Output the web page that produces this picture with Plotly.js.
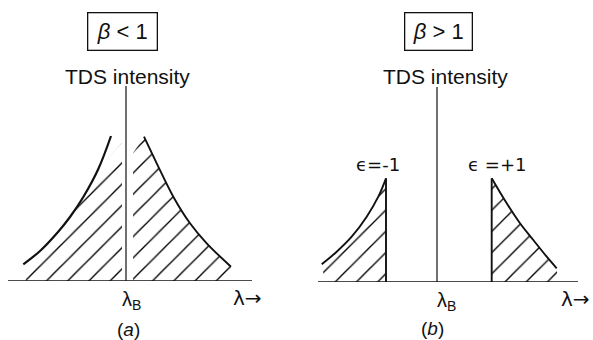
<!DOCTYPE html>
<html><head><meta charset="utf-8">
<script src="https://cdn.plot.ly/plotly-3.0.1.min.js"></script>
<style>html,body{margin:0;padding:0;background:#fff}#chart{width:593px;height:340px}</style>
</head><body><div id="chart"></div>
<script>
// ---- Panel (a): beta < 1 (lambda measured from lambda_B, arbitrary units) ----
const aLeftCurveX  = [-10.27, -8.6, -6.8, -5.6, -4.27, -2.77, -1.5];
const aLeftCurveY  = [1.67, 3.0, 4.9, 6.4, 8.4, 11.2, 14.5];
const aRightCurveX = [1.8, 3.07, 4.73, 6.4, 8.07, 10.5];
const aRightCurveY = [14.43, 11.77, 8.43, 5.77, 3.77, 1.43];
const aLeftHatchX  = [-10.0, -10.27, -8.6, -6.8, -5.6, -4.3, -2.1, -0.4, -0.4];
const aLeftHatchY  = [0, 1.67, 3.0, 4.9, 6.4, 8.2, 12.0, 13.8, 0];
const aRightHatchX = [0.7, 0.7, 1.8, 3.07, 4.73, 6.4, 8.07, 10.5, 10.7];
const aRightHatchY = [0, 12.8, 14.43, 11.77, 8.43, 5.77, 3.77, 1.43, 0];
const aBaseX = [-11.8, 12.6];
const aLambdaB = 0;
const aAxisTop = 19.5;

// ---- Panel (b): beta > 1 ----
const bMinusCurveX = [-11.53, -10.03, -8.53, -7.03, -5.87, -5.1];
const bMinusCurveY = [1.77, 3.03, 4.53, 6.53, 8.53, 10.37];
const bMinusEdgeX  = -5.1;
const bPlusCurveX  = [5.47, 6.97, 8.3, 9.63, 10.97, 11.97];
const bPlusCurveY  = [10.37, 7.87, 5.87, 4.2, 2.53, 1.37];
const bPlusEdgeX   = 5.47;
const bLobeTop     = 10.37;
const bMinusHatchX = [-11.2, -11.53, -10.03, -8.53, -7.03, -5.87, -5.1, -5.1];
const bMinusHatchY = [0, 1.77, 3.03, 4.53, 6.53, 8.53, 10.37, 0];
const bPlusHatchX  = [5.47, 5.47, 6.97, 8.3, 9.63, 10.97, 11.97, 12.1];
const bPlusHatchY  = [0, 10.37, 7.87, 5.87, 4.2, 2.53, 1.37, 0];
const bBaseX = [-11.9, 14.1];
const bLambdaB = 0;
const bAxisTop = 19.5;

// ---- Text ----
const panelConds = ['<i>β</i> < 1', '<i>β</i> > 1'];
const yLabel = 'TDS intensity';
const lobeLabels = ['ϵ=-1', 'ϵ =+1'];
const lambdaB = 'λ<sub>B</sub>';
const lambdaArrow = 'λ→';
const panelTags = ['(<i>a</i>)', '(<i>b</i>)'];

const W = 593, H = 340;
const px = x => x / W, py = y => 1 - y / H;
const hatch = {shape: '/', size: 15, solidity: 0.09, fgcolor: '#000', bgcolor: 'rgba(0,0,0,0)', fillmode: 'replace'};
const blk = '#111';

function fillTr(x, y, ax) {
  return {x, y, xaxis: 'x' + ax, yaxis: 'y' + ax, type: 'scatter', mode: 'lines', fill: 'toself',
    fillcolor: 'rgba(0,0,0,0)', fillpattern: hatch, line: {width: 0, color: 'rgba(0,0,0,0)'}, hoverinfo: 'skip'};
}
function curveTr(x, y, ax, w) {
  return {x, y, xaxis: 'x' + ax, yaxis: 'y' + ax, type: 'scatter', mode: 'lines',
    line: {color: blk, width: w, shape: 'spline', smoothing: 1}, hoverinfo: 'skip'};
}
function straight(x, y, ax, w) {
  return {x, y, xaxis: 'x' + ax, yaxis: 'y' + ax, type: 'scatter', mode: 'lines',
    line: {color: blk, width: w}, hoverinfo: 'skip'};
}

const traces = [
  fillTr(aLeftHatchX, aLeftHatchY, ''),
  fillTr(aRightHatchX, aRightHatchY, ''),
  straight(aBaseX, [0, 0], '', 1.3),
  straight([aLambdaB, aLambdaB], [0, aAxisTop], '', 1.2),
  curveTr(aLeftCurveX, aLeftCurveY, '', 2.2),
  curveTr(aRightCurveX, aRightCurveY, '', 1.9),
  fillTr(bMinusHatchX, bMinusHatchY, '2'),
  fillTr(bPlusHatchX, bPlusHatchY, '2'),
  straight(bBaseX, [0, 0], '2', 1.3),
  straight([bLambdaB, bLambdaB], [0, bAxisTop], '2', 1.2),
  curveTr(bMinusCurveX, bMinusCurveY, '2', 1.9),
  straight([bMinusEdgeX, bMinusEdgeX], [0, bLobeTop], '2', 1.9),
  curveTr(bPlusCurveX, bPlusCurveY, '2', 1.9),
  straight([bPlusEdgeX, bPlusEdgeX], [0, bLobeTop], '2', 1.9)
];

const font = {family: 'Liberation Sans, Arial, sans-serif', color: blk};
function ann(text, x, y, size, extra, fam) {
  return Object.assign({text, x: px(x), y: py(y), xref: 'paper', yref: 'paper', showarrow: false,
    xanchor: 'center', yanchor: 'middle',
    font: Object.assign({}, font, {size}, fam ? {family: fam} : {})}, extra || {});
}
const box = {bordercolor: blk, borderwidth: 1.3, borderpad: 2, bgcolor: '#fff'};

const annotations = [
  ann(panelConds[0], 122, 31, 22, Object.assign({width: 64, height: 32}, box)),
  ann(panelConds[1], 438, 31, 22, Object.assign({width: 62, height: 32}, box)),
  ann(yLabel, 127, 77, 21),
  ann(yLabel, 445, 77, 21),
  ann(lobeLabels[0], 378, 164, 18, null, 'DejaVu Sans, sans-serif'),
  ann(lobeLabels[1], 497, 164, 18, null, 'DejaVu Sans, sans-serif'),
  ann(lambdaB, 120, 300, 20, {xanchor: 'left'}),
  ann(lambdaB, 435, 301, 20, {xanchor: 'left'}),
  ann(lambdaArrow, 264, 298, 20, {xanchor: 'right'}, 'DejaVu Sans, sans-serif'),
  ann(lambdaArrow, 592, 299, 20, {xanchor: 'right'}, 'DejaVu Sans, sans-serif'),
  ann(panelTags[0], 128, 329, 19),
  ann(panelTags[1], 432, 328, 19)
];

const hid = {visible: false, fixedrange: true};
const layout = {
  width: W, height: H, margin: {l: 0, r: 0, t: 0, b: 0},
  paper_bgcolor: '#fff', plot_bgcolor: 'rgba(0,0,0,0)', showlegend: false, hovermode: false,
  xaxis:  Object.assign({domain: [px(8), px(252)], range: [-11.8, 12.6], anchor: 'y'}, hid),
  yaxis:  Object.assign({domain: [py(281), py(86)], range: [0, 19.5], anchor: 'x'}, hid),
  xaxis2: Object.assign({domain: [px(318), px(578)], range: [-11.9, 14.1], anchor: 'y2'}, hid),
  yaxis2: Object.assign({domain: [py(282), py(87)], range: [0, 19.5], anchor: 'x2'}, hid),
  annotations
};
Plotly.newPlot('chart', traces, layout, {staticPlot: true, displayModeBar: false});
</script></body></html>
